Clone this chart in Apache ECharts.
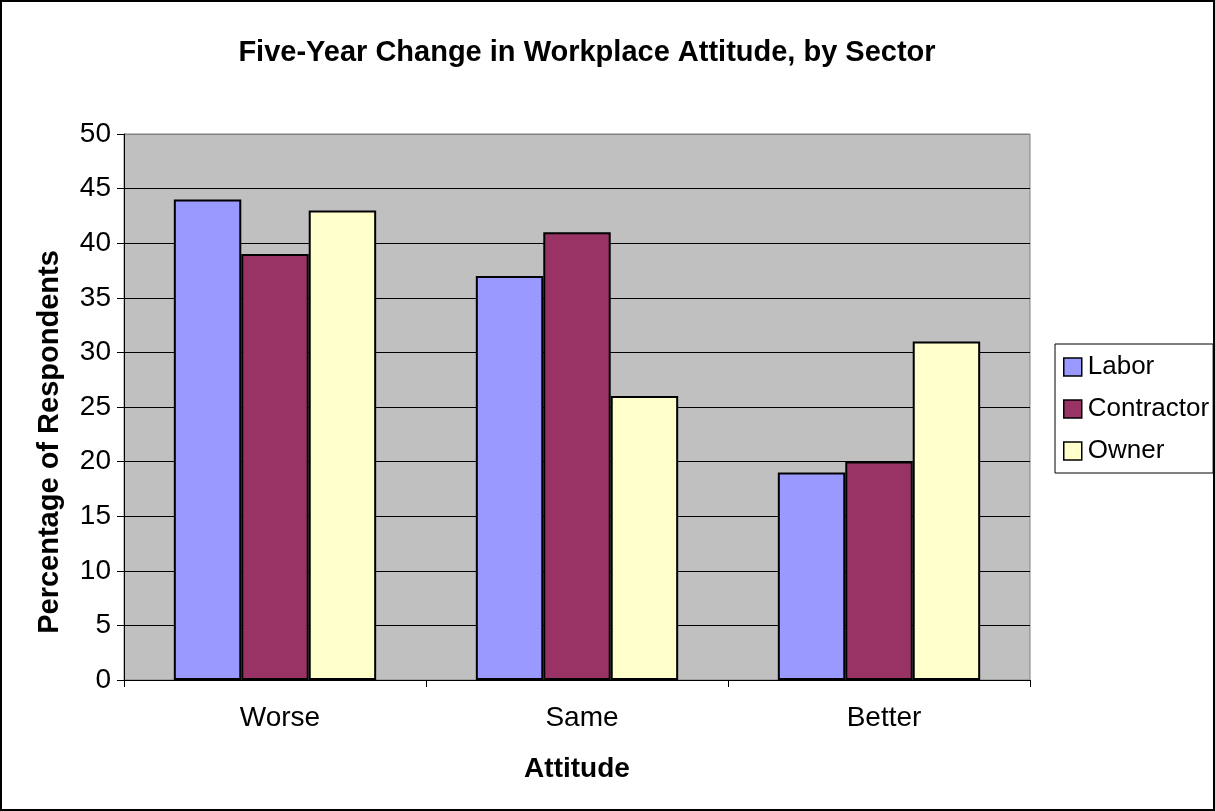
<!DOCTYPE html>
<html><head><meta charset="utf-8">
<script src="https://cdn.jsdelivr.net/npm/echarts@6/dist/echarts.min.js"></script>
<style>html,body{margin:0;padding:0;background:#fff}#c{width:1215px;height:811px;box-sizing:border-box;border:2px solid #000}</style>
</head><body><div id="c"></div>
<script>
const categories = ['Worse', 'Same', 'Better'];
const labor = [44, 37, 19];
const contractor = [39, 41, 20];
const owner = [43, 26, 31];
const yTicks = [0, 50, 5];
const FONT = '"Liberation Sans", Arial, sans-serif';
const chart = echarts.init(document.getElementById('c'), null, {renderer: 'canvas'});
function bar(name, data, color) {
  return {name, type: 'bar', data, barGap: '0%', barCategoryGap: '33%',
    itemStyle: {color, borderColor: '#000', borderWidth: 2}};
}
const gridColors = [];
for (let i = 0; i < 10; i++) gridColors.push('#000');
gridColors.push('#808080');
chart.setOption({
  animation: false,
  textStyle: {fontFamily: FONT},
  title: {text: 'Five-Year Change in Workplace Attitude, by Sector', left: 580, top: 31, textAlign: 'center',
    textStyle: {fontFamily: FONT, fontWeight: 'bold', fontSize: 29, color: '#000'}},
  grid: {left: 122, top: 132, right: 183, bottom: 129, show: true, backgroundColor: '#C0C0C0', borderColor: '#808080', borderWidth: 1},
  legend: {orient: 'vertical', left: 1053, top: 342, padding: [10, 4, 9, 8], itemGap: 16,
    borderColor: '#000', borderWidth: 1, itemWidth: 18, itemHeight: 18, icon: 'rect',
    itemStyle: {borderColor: '#000', borderWidth: 1.5},
    textStyle: {fontFamily: FONT, fontSize: 26, color: '#000', padding: [0, 0, 0, 1]}},
  xAxis: {type: 'category', data: categories, name: 'Attitude', nameLocation: 'middle', nameGap: 75,
    nameTextStyle: {fontFamily: FONT, fontWeight: 'bold', fontSize: 28, color: '#000'},
    axisLine: {lineStyle: {color: '#000', width: 1}},
    axisTick: {show: true, alignWithLabel: false, length: 7, lineStyle: {color: '#000'}},
    axisLabel: {fontFamily: FONT, fontSize: 28, color: '#000', margin: 24, padding: [0, 0, 0, 10]}},
  yAxis: {type: 'value', min: yTicks[0], max: yTicks[1], interval: yTicks[2],
    name: 'Percentage of Respondents', nameLocation: 'middle', nameGap: 60,
    nameTextStyle: {fontFamily: FONT, fontWeight: 'bold', fontSize: 29, color: '#000', padding: [0, 70, 0, 0]},
    axisLine: {show: true, lineStyle: {color: '#000', width: 1}},
    axisTick: {show: true, length: 7, lineStyle: {color: '#000'}},
    axisLabel: {fontFamily: FONT, fontSize: 28, color: '#000', margin: 13},
    splitLine: {show: true, lineStyle: {color: gridColors, width: 1}}},
  series: [bar('Labor', labor, '#9999FF'), bar('Contractor', contractor, '#993366'), bar('Owner', owner, '#FFFFCC')]
});
</script></body></html>
